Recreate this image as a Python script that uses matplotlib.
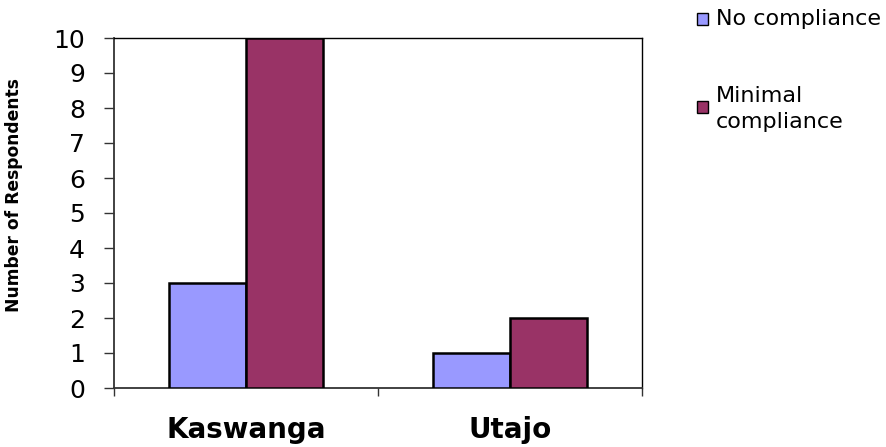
import matplotlib
matplotlib.use("Agg")
import matplotlib.pyplot as plt
from matplotlib.patches import Rectangle
import numpy as np

# Data
categories = ["Kaswanga", "Utajo"]
series_names = ["No compliance", "Minimal\ncompliance"]
no_compliance = [3, 1]
minimal_compliance = [10, 2]
yticks = list(range(0, 11))

colors = ["#9999FF", "#993366"]

plt.rcParams["font.family"] = ["DejaVu Sans"]

fig = plt.figure(figsize=(8.86, 4.47), dpi=100)
ax = fig.add_axes([114 / 886, 1 - 388 / 447, (642 - 114) / 886, (388 - 38) / 447])

centers = np.arange(len(categories)) + 0.5
w = 0.292
ax.bar(centers - w / 2, no_compliance, width=w, color=colors[0],
       edgecolor="black", linewidth=1.8, zorder=3)
ax.bar(centers + w / 2, minimal_compliance, width=w, color=colors[1],
       edgecolor="black", linewidth=1.8, zorder=3)

ax.set_xlim(0, len(categories))
ax.set_ylim(0, 10)

# Category boundaries as major ticks, names centred as minor tick labels
ax.set_xticks(np.arange(len(categories) + 1))
ax.set_xticklabels([])
ax.set_xticks(centers, minor=True)
ax.set_xticklabels(categories, minor=True, fontsize=20, fontweight="bold")
ax.tick_params(axis="x", which="major", length=6, width=1, color="#333333", direction="out")
ax.tick_params(axis="x", which="minor", length=0, pad=20)

ax.set_yticks(yticks)
ax.tick_params(axis="y", length=7, width=1, color="#333333", labelsize=18, pad=14)

for s in ["left", "bottom"]:
    ax.spines[s].set_color("#333333")
    ax.spines[s].set_linewidth(1.3)
for s in ["top", "right"]:
    ax.spines[s].set_color("black")
    ax.spines[s].set_linewidth(1.0)

ax.set_ylabel("Number of Respondents", fontsize=12.3, fontweight="bold")
ax.yaxis.set_label_coords(-0.172, 0.55)

# Legend boxes and labels
legend_y = [19, 107]
text_top = [9, 86]
for name, col, yy, ty in zip(series_names, colors, legend_y, text_top):
    fig.patches.append(Rectangle((697 / 886, 1 - (yy + 6) / 447), 11 / 886, 12 / 447,
                                 transform=fig.transFigure, facecolor=col,
                                 edgecolor="black", linewidth=1.0))
    fig.text(716 / 886, 1 - ty / 447, name, fontsize=16, va="top",
             ha="left", linespacing=1.4)

fig.savefig("out.png", dpi=100)
